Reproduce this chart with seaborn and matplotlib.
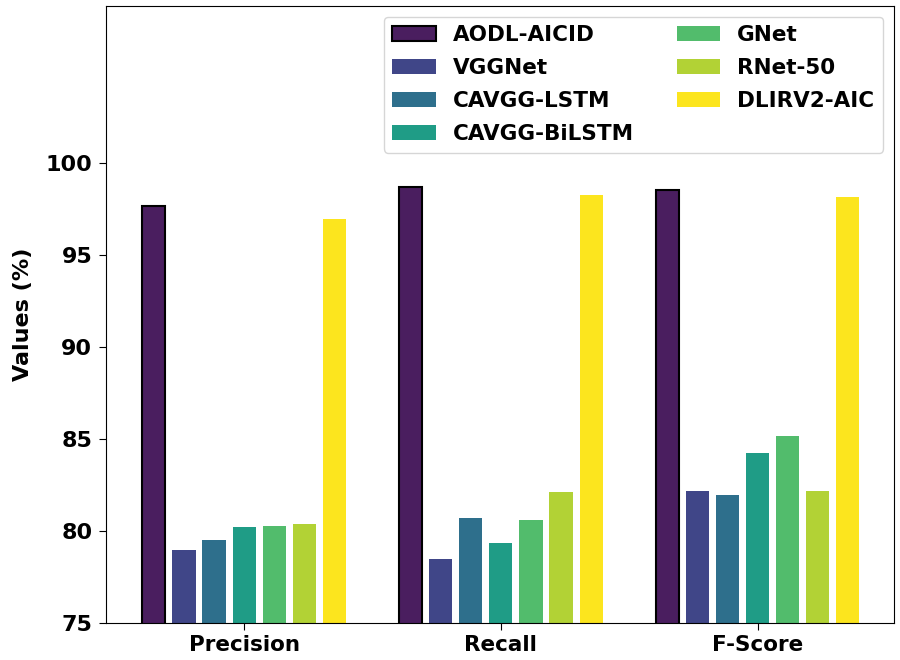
import numpy as np
import pandas as pd
import matplotlib
matplotlib.use('Agg')
import matplotlib.pyplot as plt
import seaborn as sns

metrics = ['Precision', 'Recall', 'F-Score']
models = ['AODL-AICID', 'VGGNet', 'CAVGG-LSTM', 'CAVGG-BiLSTM', 'GNet', 'RNet-50', 'DLIRV2-AIC']

aodl_aicid = [97.68, 98.70, 98.55]
vggnet = [78.98, 78.49, 82.21]
cavgg_lstm = [79.53, 80.71, 81.97]
cavgg_bilstm = [80.22, 79.38, 84.26]
gnet = [80.30, 80.63, 85.20]
rnet_50 = [80.40, 82.12, 82.21]
dlirv2_aic = [96.97, 98.30, 98.15]

colors = ['#4a1e5f', '#404688', '#2e6f8c', '#1f9c86', '#52bc6c', '#b2d235', '#fce51e']

series = [aodl_aicid, vggnet, cavgg_lstm, cavgg_bilstm, gnet, rnet_50, dlirv2_aic]
rows = []
for model, vals in zip(models, series):
    for metric, v in zip(metrics, vals):
        rows.append({'metric': metric, 'model': model, 'value': v})
df = pd.DataFrame(rows)

plt.rcParams['font.family'] = ['DejaVu Sans']
plt.rcParams['font.weight'] = 'bold'
plt.rcParams['axes.labelweight'] = 'bold'

fig, ax = plt.subplots(figsize=(9, 6.6), dpi=100)

sns.barplot(data=df, x='metric', y='value', hue='model', hue_order=models,
            order=metrics, palette=colors, saturation=1, width=0.82, gap=0.23, ax=ax)

# only the proposed model gets a black outline
for p in ax.containers[0].patches:
    p.set_edgecolor('black')
    p.set_linewidth(1.5)

ax.set_ylim(75, max(aodl_aicid) * 1.1)
ax.set_yticks(range(75, 101, 5))
ax.set_xlim(-0.537, 2.53)
ax.set_xlabel('')
ax.set_ylabel('Values (%)', fontsize=16, fontweight='bold', labelpad=9)
ax.tick_params(axis='y', labelsize=16, length=5, pad=5)
ax.tick_params(axis='x', labelsize=15.5, length=5)

leg = ax.legend(ncol=2, loc='upper right', labelspacing=0.6,
                prop={'weight': 'bold', 'size': 15.5})
h0 = leg.legend_handles[0]
h0.set_edgecolor('black')
h0.set_linewidth(1.5)

plt.subplots_adjust(left=0.118, right=0.993, top=0.991, bottom=0.056)
plt.savefig('out.png', dpi=100)
